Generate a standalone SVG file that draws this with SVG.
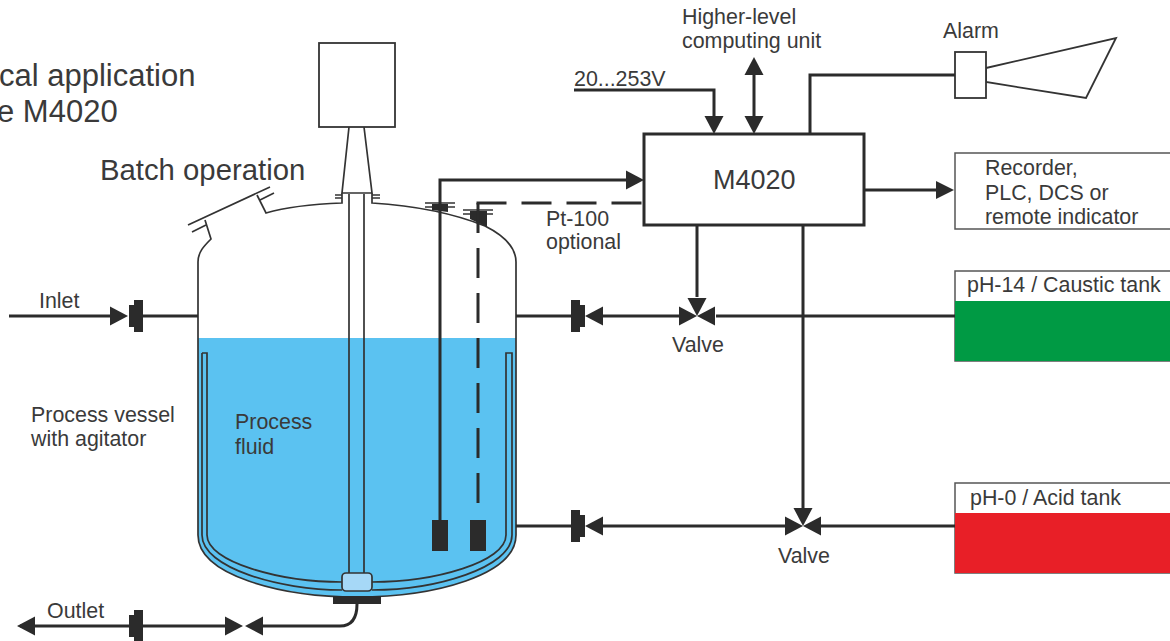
<svg xmlns="http://www.w3.org/2000/svg" width="1170" height="641" viewBox="0 0 1170 641">
<style>
text{font-family:"Liberation Sans",Arial,sans-serif;font-size:21.4px;fill:#3a3a3a}
.big{font-size:29.3px}
.title{font-size:31px}
.thin{fill:none;stroke:#333;stroke-width:1.7}
.box{fill:#fff;stroke:#333;stroke-width:1.8}
.pipe{fill:none;stroke:#2b2b2b;stroke-width:3}
.blk{fill:#2b2b2b;stroke:none}
.dash{stroke-dasharray:30 15}
</style>
<defs>
<path id="ah" d="M0,0L18,-9.5V9.5Z"/>
<path id="fl" d="M0,-11H5V-16H14V16H5V11H0Z"/>
</defs>
<rect width="1170" height="641" fill="#fff"/>

<g id="title">
<text class="title" x="-1" y="86">cal application</text>
<text class="title" x="-3" y="122">e M4020</text>
<text class="big" x="100" y="180">Batch operation</text>
</g>

<g id="vessel">
<path d="M198,338H516V535C516,575 435,597 357,597C280,597 198,575 198,535Z" fill="#5BC2F1"/>
<path class="thin" d="M198,262C198,252 204,246 211,239L205,220M188,225L270,187M192,232L206,225M260,200L274,193M257,195L266,213C290,206 315,204 342,203V193M372,193V203C420,206 455,214 485,226C505,236 516,248 516,262V535C516,575 435,597 357,597C280,597 198,575 198,535V262"/>
<path class="thin" d="M202,353H207V535C207,562 280,582 342,582M202,353V535C202,568 280,590 342,590M372,582C435,582 506,562 506,535V353H512V535C512,568 435,590 372,590"/>
<path class="thin" d="M349,127L342,193H372L364,127M335,195H342M335,198H342M372,195H380M372,198H380M349,194V573M364,194V573"/>
<rect x="342" y="573" width="30" height="18" rx="4" fill="#A6D8F7" stroke="#333" stroke-width="1.7"/>
<rect class="blk" x="333" y="596" width="48" height="8"/>
</g>

<g id="agitator-drive"><rect class="box" x="319" y="43" width="76" height="84"/></g>

<g id="probes">
<path class="thin" d="M425,203H455M425,207H455M463,210H493M463,214H493"/>
<path class="blk" d="M432,204H448V212L432,210ZM470,211H487V227L470,219Z"/>
<rect class="blk" x="432" y="520" width="16" height="31"/>
<rect class="blk" x="470" y="520" width="16" height="31"/>
</g>

<g id="m4020"><rect x="644" y="134" width="220" height="91" fill="#fff" stroke="#2b2b2b" stroke-width="3"/><text x="713" y="189" style="font-size:27px">M4020</text></g>

<g id="recorder"><rect x="955" y="153" width="216" height="76" fill="#fff" stroke="#555" stroke-width="1.5"/>
<text x="985" y="175">Recorder,</text><text x="985" y="200">PLC, DCS or</text><text x="985" y="224">remote indicator</text></g>

<g id="caustic-tank"><rect x="955" y="271" width="216" height="90" fill="#fff" stroke="#555" stroke-width="1.5"/><rect x="955" y="301" width="216" height="60" fill="#009A44"/><text x="967" y="292">pH-14 / Caustic tank</text></g>

<g id="acid-tank"><rect x="955" y="483" width="216" height="90" fill="#fff" stroke="#555" stroke-width="1.5"/><rect x="955" y="513" width="216" height="60" fill="#E81F27"/><text x="970" y="505">pH-0 / Acid tank</text></g>

<g id="alarm"><path class="box" d="M986,68L1116,38L1086,98L986,82Z"/><rect class="box" x="955" y="52" width="31" height="46"/><text x="943" y="38">Alarm</text></g>

<g id="connectors">
<path class="pipe" d="M440,520V180H630"/>
<path class="pipe dash" d="M478,203V505"/>
<path class="pipe dash" d="M476.500,203H644"/>
<path class="pipe" d="M574,90H714V118M754,72V118M810,134V75H955M864,190H938M9,316H115M130,316H198M516,316H572M602,316H680M716,316H955M697,225V297M803,225V510M516,526H572M602,526H785M821,526H955M20,626H130M143,626H226M262,626H340Q357,626 357,604"/>
<g fill="#2b2b2b">
<use href="#ah" transform="translate(644,180) rotate(180)"/>
<use href="#ah" transform="translate(954,190) rotate(180) scale(1,.95)"/>
<use href="#ah" transform="translate(714,134) rotate(-90)"/>
<use href="#ah" transform="translate(754,134) rotate(-90)"/>
<use href="#ah" transform="translate(754,57) rotate(90)"/>
<use href="#ah" transform="translate(128,316) rotate(180)"/>
<use href="#ah" transform="translate(585,316)"/>
<use href="#ah" transform="translate(697,316) rotate(180)"/>
<use href="#ah" transform="translate(697,316)"/>
<use href="#ah" transform="translate(697,316) rotate(-90)"/>
<use href="#ah" transform="translate(585,526)"/>
<use href="#ah" transform="translate(803,526) rotate(180)"/>
<use href="#ah" transform="translate(803,526)"/>
<use href="#ah" transform="translate(803,526) rotate(-90)"/>
<use href="#ah" transform="translate(17,626)"/>
<use href="#ah" transform="translate(243,626) rotate(180)"/>
<use href="#ah" transform="translate(245,626)"/>
<use href="#fl" transform="translate(129,316)"/>
<use href="#fl" transform="translate(585,316) scale(-1,1)"/>
<use href="#fl" transform="translate(585,526) scale(-1,1)"/>
<use href="#fl" transform="translate(129,626)"/>
</g>
</g>

<g id="labels">
<text x="39" y="308">Inlet</text>
<text x="47" y="618">Outlet</text>
<text x="31" y="422">Process vessel</text>
<text x="31" y="446">with agitator</text>
<text x="235" y="429">Process</text>
<text x="235" y="454">fluid</text>
<text x="574" y="86">20...253V</text>
<text x="682" y="24">Higher-level</text>
<text x="682" y="48">computing unit</text>
<text x="546" y="226">Pt-100</text>
<text x="546" y="249">optional</text>
<text x="672" y="352">Valve</text>
<text x="778" y="563">Valve</text>
</g>
</svg>
